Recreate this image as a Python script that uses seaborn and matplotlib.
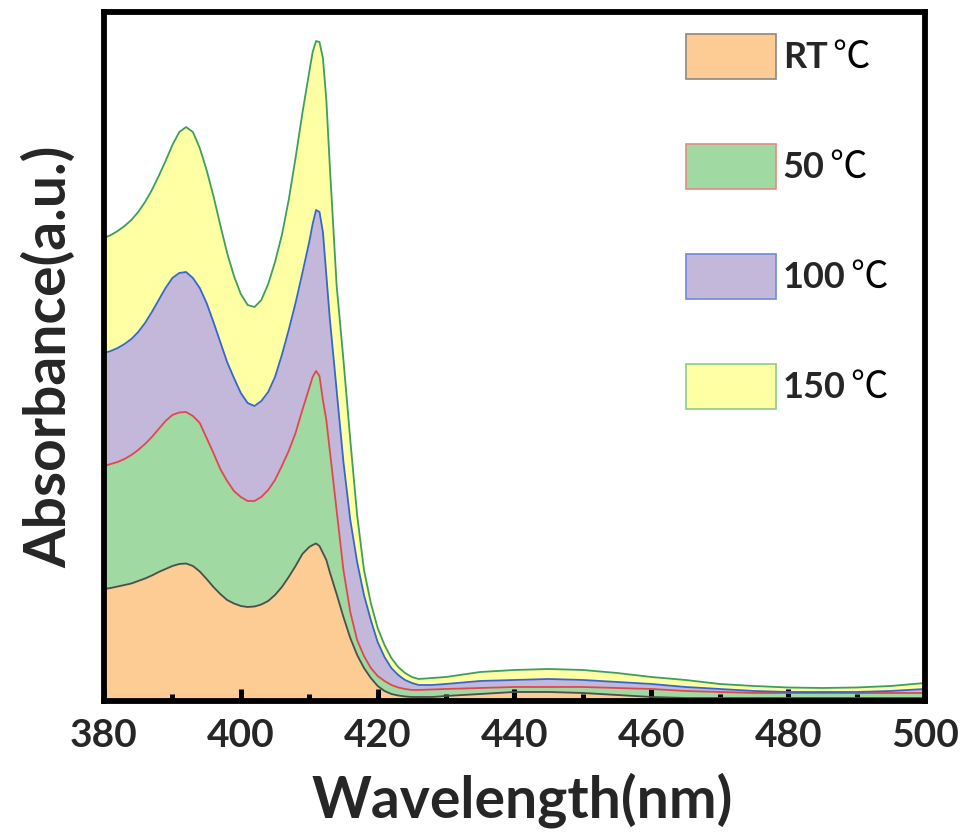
import numpy as np
import pandas as pd
import matplotlib
matplotlib.use("Agg")
import matplotlib.pyplot as plt
import seaborn as sns
from matplotlib.patches import Patch
from matplotlib.ticker import MultipleLocator

# ---------------- data (individual spectra; the chart stacks them) ----------------
wavelength = [380, 381, 382, 383, 384, 385, 386, 387, 388, 389,
              390, 391, 392, 393, 394, 395, 396, 397, 398, 399,
              400, 401, 402, 403, 404, 405, 406, 407, 408, 409,
              410, 410.5, 411, 411.5, 412, 412.5,
              413, 414, 415, 416, 417, 418, 419, 420, 421, 422, 423, 424, 425, 426,
              428, 430, 435, 440, 445, 450, 455, 460, 465, 470, 475, 480, 485, 490, 495, 500]

abs_rt = [1.12, 1.13, 1.145, 1.16, 1.175, 1.20, 1.225, 1.255, 1.29, 1.32,
          1.35, 1.37, 1.375, 1.35, 1.295, 1.22, 1.14, 1.07, 1.01, 0.975,
          0.95, 0.94, 0.945, 0.965, 1.00, 1.06, 1.14, 1.24, 1.35, 1.47,
          1.54, 1.56, 1.575, 1.55, 1.48, 1.41,
          1.29, 1.07, 0.84, 0.63, 0.46, 0.33, 0.23, 0.15, 0.10, 0.07, 0.055, 0.045, 0.04, 0.04,
          0.04, 0.05, 0.07, 0.09, 0.09, 0.08, 0.06, 0.04, 0.03, 0.03, 0.03, 0.03, 0.03, 0.03, 0.03, 0.03]

abs_50 = [1.23, 1.24, 1.245, 1.26, 1.285, 1.31, 1.345, 1.385, 1.43, 1.48,
          1.51, 1.515, 1.515, 1.50, 1.485, 1.41, 1.34, 1.25, 1.19, 1.125,
          1.09, 1.06, 1.055, 1.075, 1.11, 1.15, 1.21, 1.26, 1.33, 1.44,
          1.59, 1.68, 1.725, 1.70, 1.53, 1.40,
          1.22, 0.84, 0.47, 0.26, 0.15, 0.12, 0.10, 0.10, 0.10, 0.09, 0.08, 0.075, 0.07, 0.07,
          0.075, 0.07, 0.06, 0.05, 0.05, 0.06, 0.07, 0.08, 0.07, 0.06, 0.05, 0.05, 0.05, 0.05, 0.05, 0.05]

abs_100 = [1.13, 1.13, 1.14, 1.15, 1.16, 1.18, 1.21, 1.25, 1.29, 1.33,
           1.37, 1.395, 1.40, 1.38, 1.35, 1.35, 1.31, 1.27, 1.19, 1.13,
           1.04, 0.98, 0.95, 0.96, 0.98, 1.03, 1.11, 1.21, 1.30, 1.37,
           1.46, 1.53, 1.61, 1.64, 1.68, 1.45,
           1.32, 1.20, 1.08, 0.92, 0.78, 0.61, 0.48, 0.34, 0.24, 0.17, 0.125, 0.09, 0.07, 0.05,
           0.045, 0.05, 0.07, 0.07, 0.08, 0.07, 0.06, 0.05, 0.04, 0.03, 0.02, 0.01, 0.01, 0.01, 0.02, 0.04]

abs_150 = [1.15, 1.16, 1.17, 1.18, 1.19, 1.20, 1.21, 1.22, 1.24, 1.27,
           1.33, 1.41, 1.45, 1.46, 1.40, 1.33, 1.26, 1.17, 1.09, 1.02,
           0.99, 0.98, 0.99, 1.01, 1.08, 1.15, 1.20, 1.30, 1.45, 1.60,
           1.70, 1.72, 1.69, 1.70, 1.74, 1.75,
           1.53, 1.05, 1.02, 0.80, 0.47, 0.25, 0.17, 0.14, 0.12, 0.10, 0.08, 0.07, 0.06, 0.06,
           0.07, 0.07, 0.09, 0.10, 0.10, 0.10, 0.09, 0.07, 0.07, 0.05, 0.05, 0.045, 0.04, 0.045, 0.05, 0.06]

series_labels = ["RT℃", "50℃", "100℃", "150℃"]
x_ticks = [380, 400, 420, 440, 460, 480, 500]

fill_colors = ["#FDCB94", "#A0D9A2", "#C3B8DA", "#FFFFA3"]
line_colors = ["#4A4F48", "#E0474C", "#3565D0", "#3E9E5C"]
patch_edges = ["#8A8A80", "#E88A80", "#6E8AD8", "#8CCB8C"]

# ---------------- build stacked table ----------------
spectra = [abs_rt, abs_50, abs_100, abs_150]
for s in spectra:
    assert len(s) == len(wavelength)
stacked = np.cumsum(np.array(spectra, dtype=float), axis=0)
frames = []
for lab, top in zip(series_labels, stacked):
    frames.append(pd.DataFrame({"Wavelength": wavelength, "Level": top, "Series": lab}))
df = pd.concat(frames, ignore_index=True)

# ---------------- style ----------------
sns.set_theme(style="white")
plt.rcParams["font.family"] = ["Lato", "Noto Sans CJK SC", "DejaVu Sans"]
plt.rcParams["font.weight"] = "bold"

fig = plt.figure(figsize=(9.69, 8.36), dpi=100)
ax = fig.add_axes([0.1073, 0.1615, 0.8473, 0.8241])
ax.set_axisbelow(False)

lower = np.zeros(len(wavelength))
for i, top in enumerate(stacked):
    ax.fill_between(wavelength, lower, top, color=fill_colors[i], linewidth=0, zorder=1 + i * 0.1)
    lower = top

sns.lineplot(data=df, x="Wavelength", y="Level", hue="Series",
             palette=dict(zip(series_labels, line_colors)),
             estimator=None, sort=False, legend=False, linewidth=1.3, ax=ax, zorder=3)
for ln in ax.get_lines():
    ln.set_solid_joinstyle("round")

ax.set_xlim(380, 500)
ax.set_ylim(0, 6.89)
ax.set_xticks(x_ticks)
ax.xaxis.set_minor_locator(MultipleLocator(10))
ax.set_yticks([])

for s in ax.spines.values():
    s.set_visible(True)
    s.set_color("black")
    s.set_linewidth(4.2)
    s.set_zorder(5)

ax.tick_params(axis="x", which="major", direction="in", length=9, width=3.6, color="black",
               labelsize=28, pad=12, bottom=True, top=False)
ax.tick_params(axis="x", which="minor", direction="in", length=5, width=3.6, color="black",
               bottom=True, top=False)
for t in ax.get_xticklabels():
    t.set_fontweight("bold")

ax.set_xlabel("Wavelength(nm)", fontsize=41, fontweight="bold", labelpad=14, x=0.51)
ax.set_ylabel("Absorbance(a.u.)", fontsize=41, fontweight="bold", labelpad=20)

# legend: bold number/name, thin ℃ sign drawn right after each label
handles = [Patch(facecolor=fc, edgecolor=ec, linewidth=1.2) for fc, ec in zip(fill_colors, patch_edges)]
names = [lab.replace("℃", "") for lab in series_labels]
leg = ax.legend(handles, names, loc="upper left", bbox_to_anchor=(0.709, 0.968),
                frameon=False, borderpad=0, borderaxespad=0, handlelength=2.49, handleheight=1.54,
                handletextpad=0.19, labelspacing=1.80,
                prop={"family": "Lato", "weight": "bold", "size": 26})
leg.set_zorder(5)
for t in leg.get_texts():
    ax.annotate("℃", xy=(1, 0.5), xycoords=t, xytext=(3, 0.5), textcoords="offset points",
                ha="left", va="center", fontsize=27, fontweight="normal",
                family=["Noto Sans CJK SC", "DejaVu Sans"], color="black",
                zorder=7, annotation_clip=False)

fig.savefig("out.png", dpi=100)
